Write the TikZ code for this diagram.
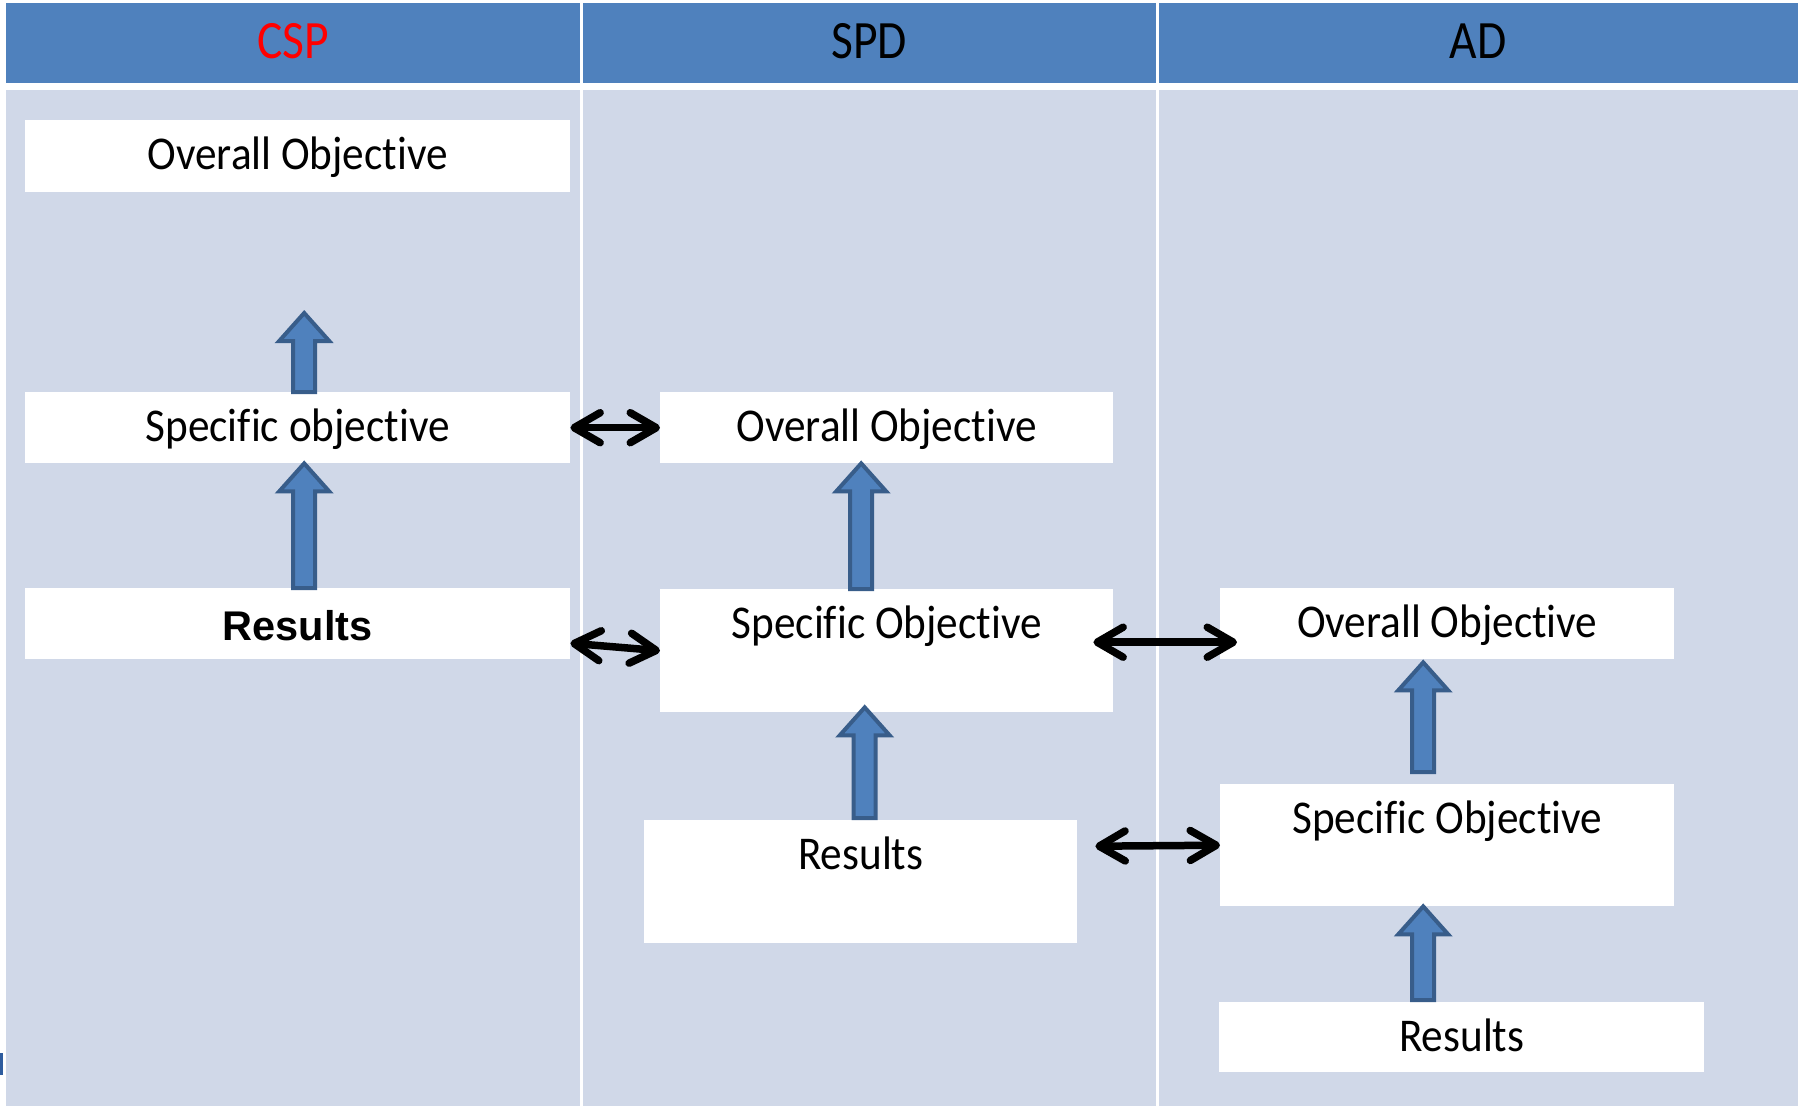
\documentclass[tikz,border=0pt]{standalone}
\usepackage{fontspec}
\setmainfont{Carlito}
\newfontfamily\boxfont[FakeStretch=0.92,Ligatures=NoCommon]{Carlito}
\newfontfamily\headfont[FakeStretch=0.88,Ligatures=NoCommon]{Carlito}
\newfontfamily\boldfont{Liberation Sans}
\usetikzlibrary{arrows.meta,calc}

\definecolor{headblue}{HTML}{4F81BD}
\definecolor{cellblue}{HTML}{D0D8E8}
\definecolor{arrowedge}{HTML}{385D8A}
\definecolor{cspred}{HTML}{FF0000}
\definecolor{markblue}{HTML}{2E5C9E}

% block arrow pointing up, from a bottom point to a tip point
\newcommand\upblockarrow[2]{%
  \draw[upblk] let \p1=(#1), \p2=(#2) in
    (\x1-11pt,\y1) -- (\x1+11pt,\y1) -- (\x1+11pt,\y2-28pt) -- (\x1+25pt,\y2-28pt)
    -- (\x1,\y2) -- (\x1-25pt,\y2-28pt) -- (\x1-11pt,\y2-28pt) -- cycle;}

\begin{document}
\begin{tikzpicture}[x=1pt,y=-1pt,
  cell/.style={fill=cellblue},
  head/.style={fill=headblue},
  headtext/.style={inner sep=0pt, font=\headfont\fontsize{54}{60}\selectfont},
  tbox/.style={fill=white, inner sep=0pt, anchor=north west,
    text height=49pt, text depth=#1,
    font=\boxfont\fontsize{47}{56}\selectfont},
  upblk/.style={fill=headblue, draw=arrowedge, line width=4pt, line join=miter},
  dbl/.style={draw=black, line width=7.5pt,
    arrows={Straight Barb[length=26pt,width=30pt,round]-Straight Barb[length=26pt,width=30pt,round]}}
]
\useasboundingbox (0,0) rectangle (1798,1106);
\fill[white] (0,0) rectangle (1798,1106);

% header row
\fill[head] (6,3) rectangle (580,83);
\fill[head] (582.5,3) rectangle (1156,83);
\fill[head] (1158.5,3) rectangle (1798,83);
\node[headtext, text=cspred] (hcsp) at (293,41) {CSP};
\node[headtext] (hspd) at (869,41) {SPD};
\node[headtext] (had) at (1478,41) {AD};

% body cells
\fill[cell] (6,90) rectangle (580,1106);
\fill[cell] (582.5,90) rectangle (1156,1106);
\fill[cell] (1158.5,90) rectangle (1798,1106);
\fill[markblue] (0,1053) rectangle (3,1075);

% CSP column
\node[tbox=23pt, minimum width=545pt] (oo1) at (25,120) {Overall Objective};
\node[tbox=22pt, minimum width=545pt] (so1) at (25,392) {Specific objective};
\node[tbox=19pt, text height=52pt, minimum width=545pt,
      font=\boldfont\bfseries\fontsize{41.5}{50}\selectfont] (r1) at (25,588) {Results};

% SPD column
\node[tbox=22pt, minimum width=453pt] (oo2) at (660,392) {Overall Objective};
\node[tbox=74pt, minimum width=453pt] (so2) at (660,589) {Specific Objective};
\node[tbox=74pt, minimum width=433pt] (r2) at (644,820) {Results};

% AD column
\node[tbox=22pt, minimum width=454pt] (oo3) at (1220,588) {Overall Objective};
\node[tbox=73pt, minimum width=454pt] (so3) at (1220,784) {Specific Objective};
\node[tbox=21pt, minimum width=485pt] (r3) at (1219,1002) {Results};

% upward block arrows
\upblockarrow{[xshift=6.5pt]so1.north}{[xshift=6.5pt,yshift=79pt]so1.north}
\upblockarrow{[xshift=6.5pt]r1.north}{[xshift=6.5pt]so1.south}
\upblockarrow{[xshift=-25.5pt]so2.north}{[xshift=-25.5pt]oo2.south}
\upblockarrow{[xshift=4pt,yshift=2pt]r2.north}{[xshift=-22pt,yshift=5pt]so2.south}
\upblockarrow{[xshift=-24pt,yshift=12pt]so3.north}{[xshift=-24pt,yshift=-3pt]oo3.south}
\upblockarrow{[xshift=-38.5pt,yshift=2pt]r3.north}{[xshift=-24pt]so3.south}

% two-way links between columns
\draw[dbl] (so1.east) -- (oo2.west);
\draw[dbl] ([yshift=-19.5pt]r1.east) -- (so2.west);
\draw[dbl] ([xshift=-20pt,yshift=8.5pt]so2.east) -- ([xshift=17pt,yshift=-18.5pt]oo3.west);
\draw[dbl] ([xshift=18pt,yshift=35.5pt]r2.east) -- (so3.west);
\end{tikzpicture}
\end{document}
